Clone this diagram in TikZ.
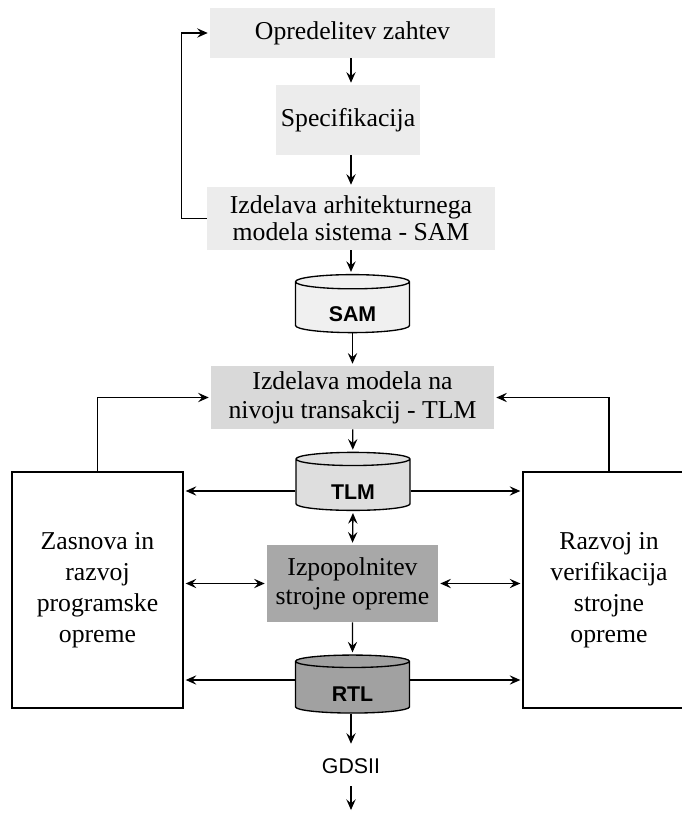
\documentclass[tikz,border=0pt]{standalone}
\usepackage{fontspec}
\setmainfont{Liberation Serif}
\setsansfont{Liberation Sans}
\usetikzlibrary{calc,arrows.meta,shapes.geometric}

\definecolor{lightbox}{gray}{0.925}
\definecolor{midbox}{gray}{0.85}
\definecolor{darkbox}{gray}{0.66}
\definecolor{samfill}{gray}{0.94}
\definecolor{tlmfill}{gray}{0.87}
\definecolor{rtlfill}{gray}{0.63}

\def\px{0.75pt}

\tikzset{
  stagebox/.style={rectangle, fill=#1, inner sep=0pt, align=center,
    font=\fontsize{19.3}{22}\selectfont},
  datacyl/.style={cylinder, shape border rotate=90, aspect=0.3, draw=black,
    line width=1pt, fill=#1, inner sep=0pt, text height=21pt, text depth=0pt,
    minimum width=114*\px, minimum height=58*\px,
    font=\sffamily\bfseries\fontsize{16}{18}\selectfont},
  sidebox/.style={rectangle, draw=black, line width=1pt, inner sep=0pt,
    align=center, minimum height=236*\px,
    font=\fontsize{19.3}{23.3}\selectfont},
  flow/.style={->, line width=1pt, shorten >=1.5pt},
  twoway/.style={<->, line width=1pt, shorten >=1.5pt, shorten <=1.5pt}
}

\begin{document}
\begin{tikzpicture}[x=0.75pt,y=-0.75pt,>={Stealth[length=8pt,width=7pt,inset=3pt]}]
        % --- 1. Frame ---
        \useasboundingbox (0,0) rectangle (681,816);

        % --- 2. Main column ---
        \node[stagebox=lightbox, minimum width=285*\px, minimum height=50*\px] (req) at (352.5,33) {Opredelitev zahtev};
        \node[stagebox=lightbox, minimum width=144*\px, minimum height=70*\px] (spec) at (348,120) {Specifikacija};
        \node[stagebox=lightbox, minimum width=288*\px, minimum height=63*\px,
              font=\fontsize{19.3}{20.5}\selectfont] (arch) at (351,218.5) {Izdelava arhitekturnega\\modela sistema - SAM};
        \node[datacyl=samfill] (sam) at (352.5,307.5) {SAM};
        \node[stagebox=midbox, minimum width=283*\px, minimum height=63*\px] (tlmm) at (352.5,397.5) {Izdelava modela na\\nivoju transakcij - TLM};
        \node[datacyl=tlmfill] (tlm) at (353,485) {TLM};
        \node[stagebox=darkbox, minimum width=171*\px, minimum height=77*\px] (refine) at (352.5,583.5) {Izpopolnitev\\strojne opreme};
        \node[datacyl=rtlfill] (rtl) at (352.5,687.5) {RTL};
        \node[inner sep=0pt, minimum height=40*\px, font=\sffamily\fontsize{16}{18}\selectfont] (gds) at (351,766) {GDSII};
        \coordinate (out) at (351,812);

        % --- 3. Side blocks ---
        \node[sidebox, minimum width=171*\px] (sw) at (97.5,590) {Zasnova in\\razvoj\\programske\\opreme};
        \node[sidebox, minimum width=172*\px] (hw) at (609,590) {Razvoj in\\verifikacija\\strojne\\opreme};

        % --- 4. Flow down the middle ---
        \draw[flow] (req.south -| out) -- (spec.north -| out);
        \draw[flow] (spec.south -| out) -- (arch.north -| out);
        \draw[flow] (arch.south -| out) -- (sam.north -| out);
        \draw[flow] (sam) -- (tlmm);
        \draw[flow] (tlmm) -- (tlm);
        \draw[twoway] (tlm.south) -- (refine.north);
        \draw[flow] (refine) -- (rtl);
        \draw[flow] (rtl.south -| gds) -- (gds.north);
        \draw[flow] (gds.south) -- (out);

        % --- 5. Feedback loops ---
        \draw[flow] (arch.west) -- ++(-25,0) |- (req.west);
        \draw[flow] (sw.north) |- (tlmm.west);
        \draw[flow] (hw.north) |- (tlmm.east);

        % --- 6. Links to the side blocks ---
        \draw[flow] (tlm.west) ++(0,6) coordinate (tlmL) -- (tlmL -| sw.east);
        \draw[flow] (tlm.east) ++(0,6) coordinate (tlmR) -- (tlmR -| hw.west);
        \draw[twoway] (refine.west) -- (refine.west -| sw.east);
        \draw[twoway] (refine.east) -- (refine.east -| hw.west);
        \draw[flow] (rtl.west) ++(0,-7.5) coordinate (rtlL) -- (rtlL -| sw.east);
        \draw[flow] (rtl.east) ++(0,-7.5) coordinate (rtlR) -- (rtlR -| hw.west);

\end{tikzpicture}
\end{document}
